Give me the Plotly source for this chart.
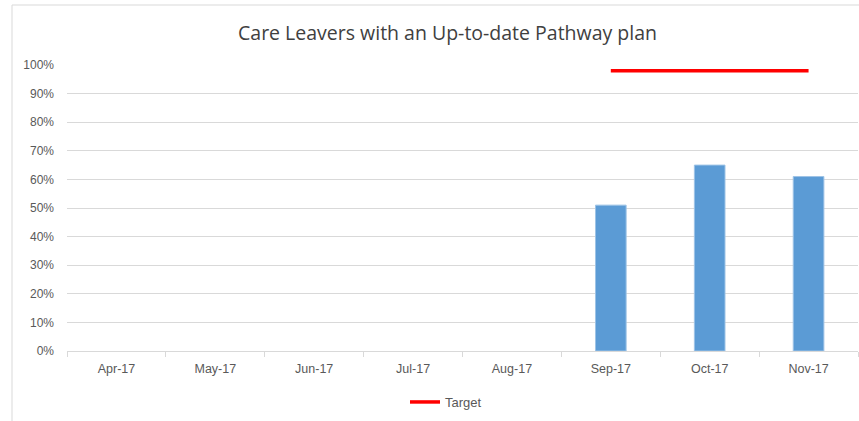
import plotly.graph_objects as go

months = ["Apr-17", "May-17", "Jun-17", "Jul-17", "Aug-17", "Sep-17", "Oct-17", "Nov-17"]
actual = [None, None, None, None, None, 0.51, 0.65, 0.61]
target = [None, None, None, None, None, 0.98, 0.98, 0.98]
yticks = [0, 0.1, 0.2, 0.3, 0.4, 0.5, 0.6, 0.7, 0.8, 0.9, 1.0]

fig = go.Figure()
fig.add_trace(go.Bar(
    x=months, y=actual, name="Actual", showlegend=False,
    marker=dict(color="#5b9bd5", line=dict(color="#9dc3e6", width=1)),
))
fig.add_trace(go.Scatter(
    x=months, y=target, name="Target", mode="lines",
    line=dict(color="#ff0000", width=3.5),
))

W, H = 859, 421
ml, mr, mt, mb = 67, 1, 65, 70
pw, ph = W - ml - mr, H - mt - mb

def px(x):
    return (x - ml) / pw

def py(y):
    return (H - mb - y) / ph

fig.update_layout(
    width=W, height=H,
    margin=dict(l=ml, r=mr, t=mt, b=mb),
    paper_bgcolor="white", plot_bgcolor="white",
    bargap=0.69,
    font=dict(family="Liberation Sans, Arial, sans-serif", color="#595959", size=12),
    title=dict(text="Care Leavers with an Up-to-date Pathway plan",
               x=px(447.5), xref="paper", xanchor="center",
               y=1 - 33 / H, yanchor="middle", yref="container",
               font=dict(size=19.5, color="#404040", family="Open Sans, Liberation Sans, sans-serif")),
    legend=dict(orientation="h", x=px(446), xanchor="center", xref="paper",
                y=py(402), yanchor="middle", yref="paper",
                font=dict(size=13, color="#595959"),
                bgcolor="rgba(0,0,0,0)"),
    xaxis=dict(showgrid=False, showline=True, linecolor="#d9d9d9", linewidth=1,
               ticks="outside", tickson="boundaries", ticklen=5, tickcolor="#d9d9d9",
               ticklabelstandoff=6,
               tickfont=dict(size=12.5, color="#595959"), fixedrange=True),
    yaxis=dict(range=[0, 1.0], tickvals=yticks, tickformat=".0%",
               showgrid=True, gridcolor="#d9d9d9", gridwidth=1,
               zeroline=False, showline=False, ticks="",
               ticklabelstandoff=12,
               tickfont=dict(size=12, color="#595959"), fixedrange=True),
    shapes=[
        dict(type="rect", xref="paper", yref="paper",
             x0=px(12), x1=px(875), y0=py(430), y1=py(5),
             line=dict(color="#d9d9d9", width=1), fillcolor="rgba(0,0,0,0)", layer="below"),
    ],
)

fig.write_html("out.html", config={"displayModeBar": False},
               post_script="document.body.style.margin='0';document.body.style.overflow='hidden';")
